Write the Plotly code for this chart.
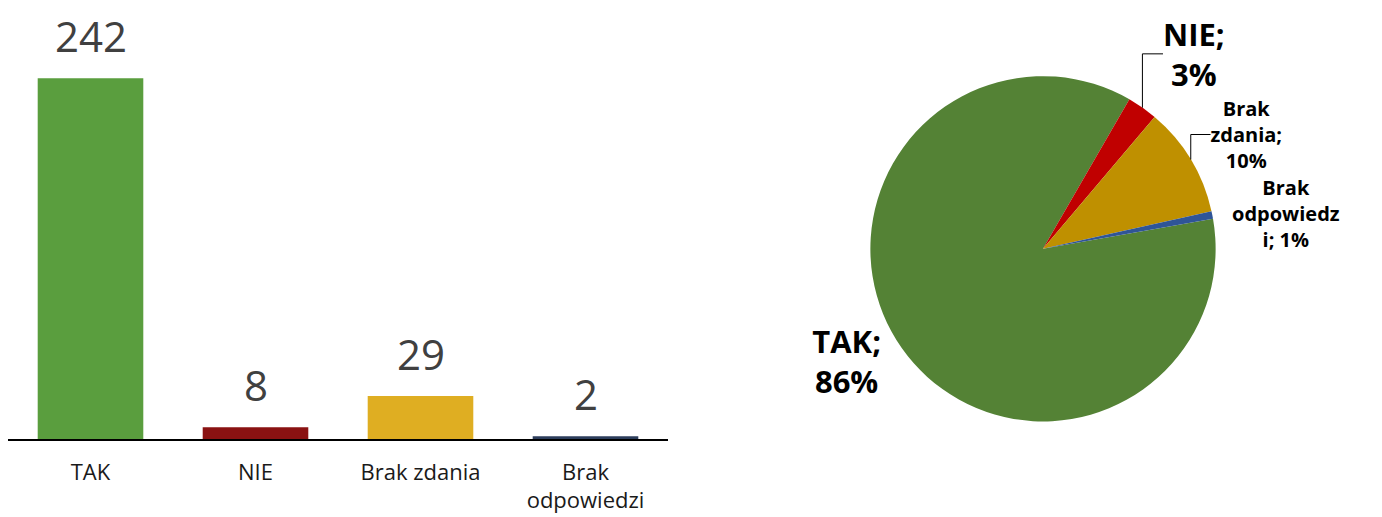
import plotly.graph_objects as go

categories = ["TAK", "NIE", "Brak zdania", "Brak odpowiedzi"]
counts = [242, 8, 29, 2]
bar_colors = ["#5a9e3e", "#8a1212", "#dfae22", "#2c3d5b"]
pie_colors = ["#548235", "#c00000", "#bf9000", "#2f5597"]
tick_labels = ["TAK", "NIE", "Brak zdania", "Brak<br>odpowiedzi"]

total = sum(counts)
pcts = [round(v / total * 100) for v in counts]
wrap_widths = [5, 5, 9, 9]
pie_sizes = [31, 31, 20, 20]


def wrap(s, w):
    lines, cur = [], ""
    for word in s.split(" "):
        cand = word if not cur else cur + " " + word
        if len(cand) <= w:
            cur = cand
        else:
            if cur:
                lines.append(cur)
            cur = word
            while len(cur) > w:
                lines.append(cur[:w])
                cur = cur[w:]
    lines.append(cur)
    return "<br>".join(lines)


pie_text = [wrap(f"{c}; {p}%", w) for c, p, w in zip(categories, pcts, wrap_widths)]

FONT = "Open Sans"
W, H = 1382, 517
OFF = 8  # browser body margin

fig = go.Figure()
fig.add_trace(go.Bar(
    x=categories, y=counts, width=0.64,
    marker=dict(color=bar_colors, line=dict(width=0)),
    showlegend=False, xaxis="x", yaxis="y",
))
for c, v in zip(categories, counts):
    fig.add_annotation(x=c, y=v, xref="x", yref="y", text=str(v), showarrow=False,
                       yanchor="bottom", yshift=12,
                       font=dict(family=FONT, size=42, color="#404040"))

cx, cy, r = 1043 - OFF, 245 - OFF, 175
fig.add_trace(go.Pie(
    labels=categories, values=counts, sort=False, direction="clockwise", rotation=80,
    marker=dict(colors=pie_colors, line=dict(width=0)),
    text=pie_text, texttemplate="<b>%{text}</b>", textposition="outside",
    textfont=dict(family=FONT, size=pie_sizes, color="#000000"),
    domain=dict(x=[(cx - r) / W, (cx + r) / W], y=[(H - cy - r) / H, (H - cy + r) / H]),
    showlegend=False, hoverinfo="label+value+percent",
))

axis_px = 438 - OFF
fig.update_layout(
    width=W, height=H,
    margin=dict(l=0, r=0, t=0, b=0),
    paper_bgcolor="white", plot_bgcolor="white",
    font=dict(family=FONT),
    xaxis=dict(domain=[0, 660 / W], tickvals=categories, ticktext=tick_labels,
               showline=True, linecolor="black", linewidth=2, ticks="", showgrid=False,
               tickfont=dict(family=FONT, size=22, color="#1a1a1a"), ticklabelstandoff=12,
               automargin=False, fixedrange=True),
    yaxis=dict(domain=[(H - axis_px) / H, 1], range=[0, axis_px / 1.5124], visible=False,
               showgrid=False, fixedrange=True),
)

fig.write_html("out.html")
